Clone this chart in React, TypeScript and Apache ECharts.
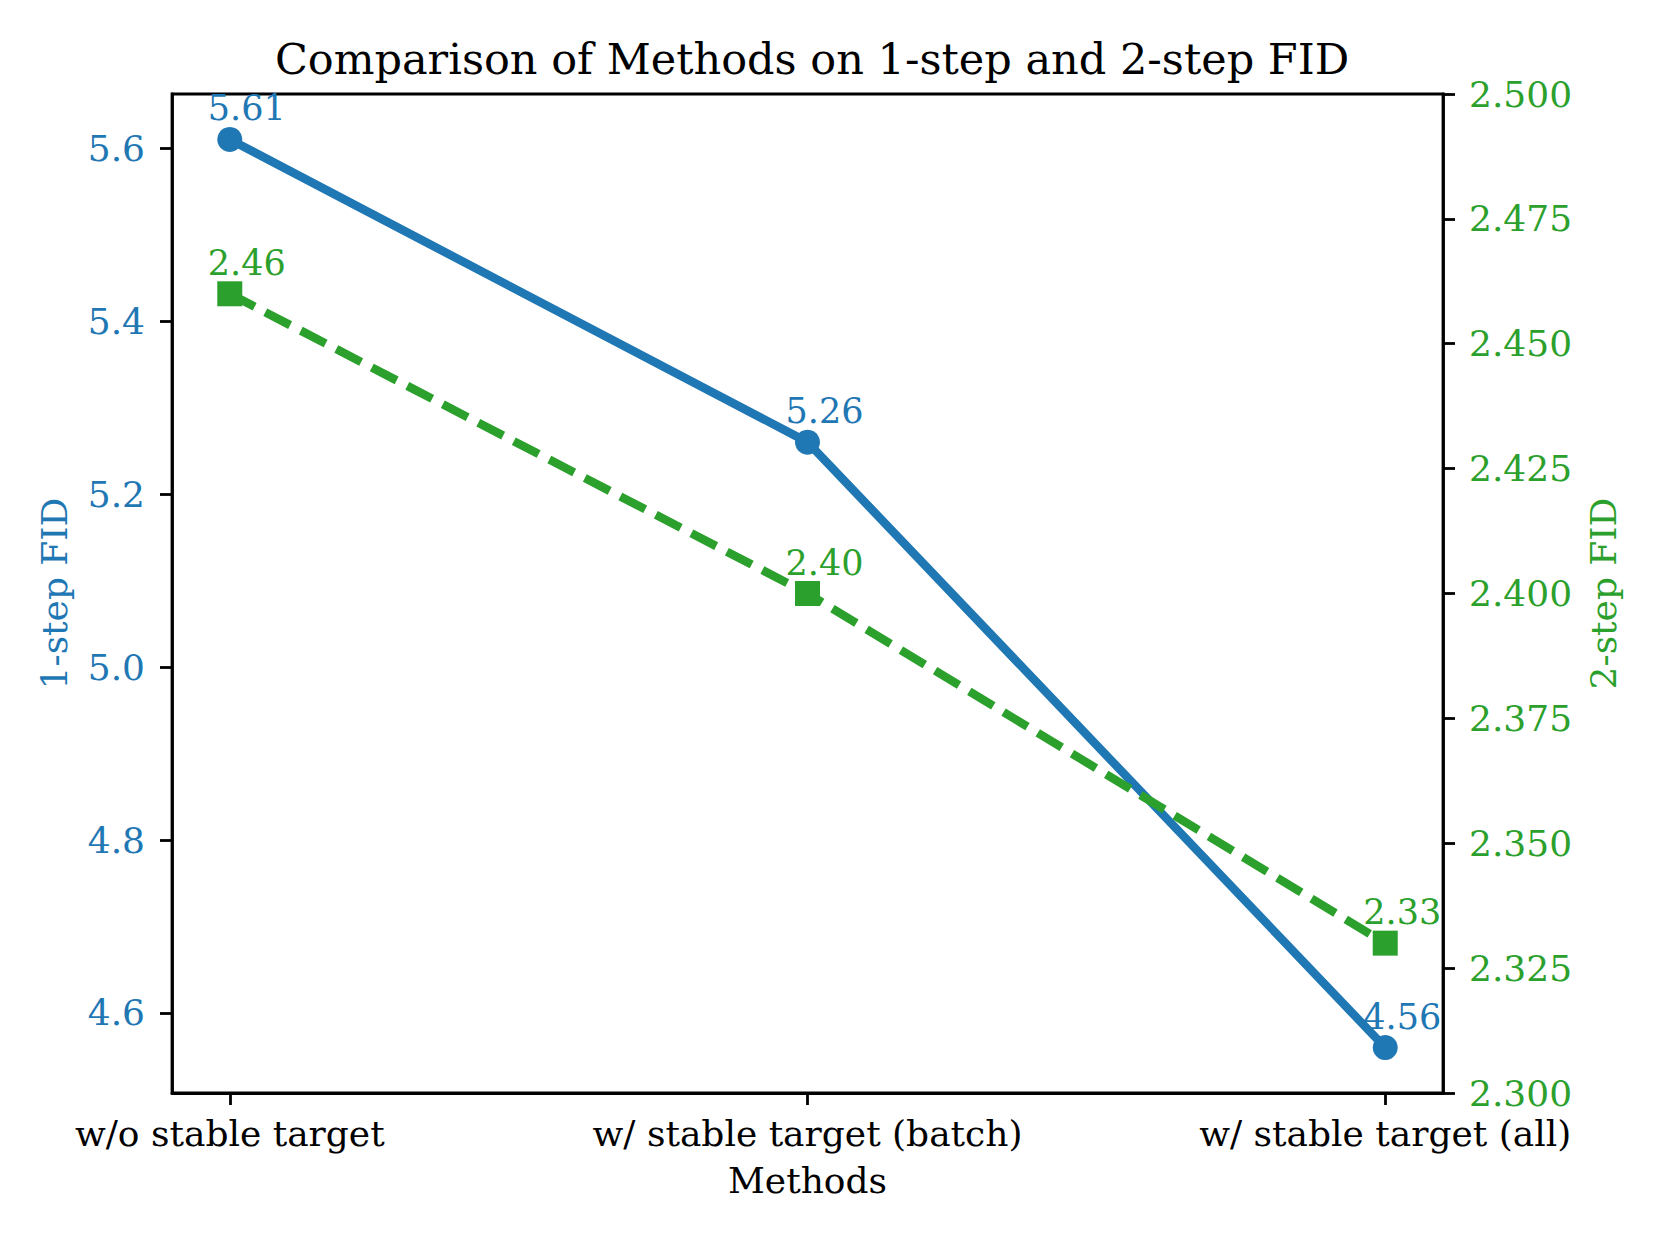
import React, { useEffect, useRef } from "react";
import * as echarts from "echarts";

const categories = ["w/o stable target", "w/ stable target (batch)", "w/ stable target (all)"];
const fid1Step = [5.61, 5.26, 4.56];
const fid2Step = [2.46, 2.4, 2.33];
const leftTicks = [4.6, 4.8, 5.0, 5.2, 5.4, 5.6];
const catIdx = [0, 1, 2];

const BLUE = "#1f77b4";
const GREEN = "#2ca02c";
const FONT = "DejaVu Serif";

export default function App() {
  const ref = useRef<HTMLDivElement>(null);
  useEffect(() => {
    if (!ref.current) return;
    const chart = echarts.init(ref.current, null, { renderer: "svg" });
    const tickFs = 36;
    chart.setOption({
      animation: false,
      backgroundColor: "#ffffff",
      title: {
        text: "Comparison of Methods on 1-step and 2-step FID",
        left: 807,
        top: 32,
        textAlign: "center",
        textStyle: { fontFamily: FONT, fontSize: 43, fontWeight: "normal", color: "#000" },
      },
      grid: {
        left: 172,
        right: 217,
        top: 94,
        bottom: 152,
        show: true,
        borderColor: "#000",
        borderWidth: 2.8,
        backgroundColor: "transparent",
      },
      xAxis: {
        type: "value",
        min: -0.1,
        max: 2.1,
        splitLine: { show: false },
        axisLine: { show: true, onZero: false, lineStyle: { color: "#000", width: 2.8 } },
        axisTick: { show: true, customValues: catIdx, length: 12, lineStyle: { color: "#000", width: 2.8 } },
        axisLabel: {
          customValues: catIdx,
          formatter: (v: number) => categories[Math.round(v)],
          color: "#000",
          fontFamily: FONT,
          fontSize: tickFs,
          margin: 22,
        },
        name: "Methods",
        nameLocation: "middle",
        nameGap: 69,
        nameTextStyle: { fontFamily: FONT, fontSize: tickFs, color: "#000" },
      },
      yAxis: [
        {
          type: "value",
          position: "left",
          min: 4.5075,
          max: 5.6625,
          splitLine: { show: false },
          axisLine: { show: true, onZero: false, lineStyle: { color: "#000", width: 2.8 } },
          axisTick: { show: true, customValues: leftTicks, length: 12, lineStyle: { color: "#000", width: 2.8 } },
          axisLabel: {
            customValues: leftTicks,
            formatter: (v: number) => v.toFixed(1),
            color: BLUE,
            fontFamily: FONT,
            fontSize: tickFs,
            margin: 27,
          },
          name: "1-step FID",
          nameLocation: "middle",
          nameRotate: 90,
          nameGap: 100,
          nameTextStyle: { fontFamily: FONT, fontSize: tickFs, color: BLUE },
        },
        {
          type: "value",
          position: "right",
          min: 2.3,
          max: 2.5,
          interval: 0.025,
          splitLine: { show: false },
          axisLine: { show: true, onZero: false, lineStyle: { color: "#000", width: 2.8 } },
          axisTick: { show: true, length: 12, lineStyle: { color: "#000", width: 2.8 } },
          axisLabel: {
            formatter: (v: number) => v.toFixed(3),
            color: GREEN,
            fontFamily: FONT,
            fontSize: tickFs,
            margin: 26,
          },
          name: "2-step FID",
          nameLocation: "middle",
          nameRotate: 90,
          nameGap: 142,
          nameTextStyle: { fontFamily: FONT, fontSize: tickFs, color: GREEN },
        },
      ],
      series: [
        {
          type: "line",
          yAxisIndex: 0,
          data: catIdx.map((i) => [i, fid1Step[i]]),
          symbol: "circle",
          symbolSize: 25,
          lineStyle: { color: BLUE, width: 8.5 },
          itemStyle: { color: BLUE },
          label: {
            show: true,
            position: "top",
            distance: 1,
            offset: [17, 0],
            formatter: (p: any) => p.value[1].toFixed(2),
            color: BLUE,
            fontFamily: FONT,
            fontSize: 35,
            lineHeight: 35,
          },
          z: 2,
        },
        {
          type: "line",
          yAxisIndex: 1,
          data: catIdx.map((i) => [i, fid2Step[i]]),
          symbol: "rect",
          symbolSize: 25,
          lineStyle: { color: GREEN, width: 8.5, type: [28, 12] },
          itemStyle: { color: GREEN },
          label: {
            show: true,
            position: "top",
            distance: 1,
            offset: [17, 0],
            formatter: (p: any) => p.value[1].toFixed(2),
            color: GREEN,
            fontFamily: FONT,
            fontSize: 35,
            lineHeight: 35,
          },
          z: 3,
        },
      ],
    });
    return () => chart.dispose();
  }, []);
  return (
    <div
      ref={ref}
      style={{ position: "fixed", left: 0, top: 0, width: 1660, height: 1245 }}
    />
  );
}
